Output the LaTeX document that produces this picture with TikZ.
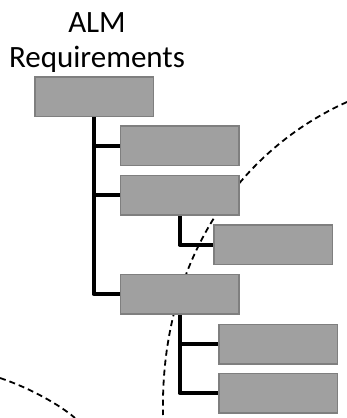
\documentclass[tikz,border=0pt]{standalone}
\usepackage{fontspec}
\setmainfont{Carlito}
\definecolor{boxfill}{RGB}{160,160,160}
\definecolor{boxline}{RGB}{127,127,127}
\begin{document}
\begin{tikzpicture}[x=1pt,y=-1pt,
  box/.style={draw=boxline,fill=boxfill,line width=1.5pt,rectangle,minimum width=117pt,minimum height=38pt,inner sep=0pt},
  tree/.style={draw=black,line width=4pt,line join=round},
  bound/.style={draw=black,line width=1.8pt,dash pattern=on 6pt off 4pt},
  label/.style={font=\fontsize{31}{35}\selectfont,inner sep=0pt,anchor=base}]
\useasboundingbox (0,0) rectangle (347,418);
% dashed boundaries
\draw[bound] (347,102) .. controls (240,150) and (160,260) .. (163,415);
\draw[bound] (0,378) .. controls (30,388) and (60,405) .. (75,418);
% boxes
\node[box] (b1) at (94,96.5) {};
\node[box] (b2) at (179.5,145.5) {};
\node[box] (b3) at (179.5,195) {};
\node[box] (b4) at (273,244.5) {};
\node[box] (b5) at (179.5,294) {};
\node[box] (b6) at (278,344) {};
\node[box] (b7) at (278,393) {};
% connectors
\coordinate (v1) at (93.5,96.5);
\draw[tree] (v1 |- b1.south) |- (b2.west);
\draw[tree] (v1 |- b1.south) |- (b3.west);
\draw[tree] (v1 |- b1.south) |- (b5.west);
\draw[tree] (b3.south) |- (b4.west);
\draw[tree] (b5.south) |- (b6.west);
\draw[tree] (b5.south) |- (b7.west);
% redraw boxes on top of connector ends
\foreach \n in {b1,b2,b3,b4,b5,b6,b7}{\path[box] (\n.south west) rectangle (\n.north east);}
% title
\node[label] (t1) at (97,32) {ALM};
\node[label] (t2) at (97,67) {Requirements};
\end{tikzpicture}
\end{document}
